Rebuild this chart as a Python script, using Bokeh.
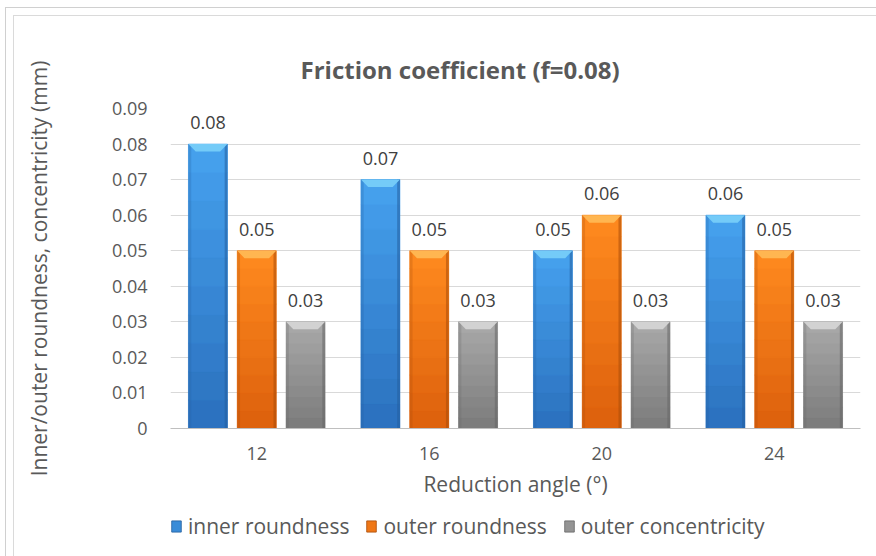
from bokeh.plotting import figure
from bokeh.models import (Range1d, FixedTicker, Legend, LegendItem, ColumnDataSource)
from bokeh.layouts import column
from bokeh.embed import file_html
from bokeh.resources import INLINE
import numpy as np

# data
angles = ["12", "16", "20", "24"]
inner_roundness = [0.08, 0.07, 0.05, 0.06]
outer_roundness = [0.05, 0.05, 0.06, 0.05]
outer_concentricity = [0.03, 0.03, 0.03, 0.03]
y_ticks = [0, 0.01, 0.02, 0.03, 0.04, 0.05, 0.06, 0.07, 0.08, 0.09]

series = [
    ("inner roundness", inner_roundness, -0.283,
     dict(top="#46a2ef", bottom="#2b70bd", cap="#74cbf8", edge="#255f9e")),
    ("outer roundness", outer_roundness, 0.0,
     dict(top="#ff8a1f", bottom="#dc600c", cap="#ffb651", edge="#a94d0a")),
    ("outer concentricity", outer_concentricity, 0.283,
     dict(top="#a9a9a9", bottom="#7b7b7b", cap="#d2d2d2", edge="#666666")),
]

FONT = "Open Sans"
TEXT = "#595959"
BAR_W = 0.226

p = figure(width=876, height=500, x_range=Range1d(0, 4), y_range=Range1d(0, 0.09),
           output_backend="svg", toolbar_location=None,
           min_border_left=170, min_border_right=16, min_border_top=108, min_border_bottom=72)
p.outline_line_color = None
p.background_fill_color = "white"
p.border_fill_alpha = 0

p.title.text = "Friction coefficient (f=0.08)"
p.title.align = "left"
p.title.offset = 130
p.title.text_font = FONT
p.title.text_font_size = "24px"
p.title.text_font_style = "bold"
p.title.text_color = TEXT
p.title.standoff = 45

# y axis
p.yaxis.ticker = FixedTicker(ticks=y_ticks)
p.yaxis.major_label_overrides = {0: "0"}
p.yaxis.axis_line_color = None
p.yaxis.major_tick_line_color = None
p.yaxis.minor_tick_line_color = None
p.yaxis.major_label_standoff = 17
p.yaxis.major_label_text_font = FONT
p.yaxis.major_label_text_font_size = "18px"
p.yaxis.major_label_text_color = TEXT
p.yaxis.axis_label = "Inner/outer roundness, concentricity (mm)"
p.yaxis.axis_label_text_font = FONT
p.yaxis.axis_label_text_font_size = "21px"
p.yaxis.axis_label_text_font_style = "normal"
p.yaxis.axis_label_text_color = TEXT
p.yaxis.axis_label_standoff = 56

# x axis
cat_x = [i + 0.5 for i in range(len(angles))]
p.xaxis.ticker = FixedTicker(ticks=cat_x)
p.xaxis.major_label_overrides = {c: a for c, a in zip(cat_x, angles)}
p.xaxis.axis_line_color = "#bfbfbf"
p.xaxis.major_tick_line_color = None
p.xaxis.minor_tick_line_color = None
p.xaxis.major_label_standoff = 12
p.xaxis.major_label_text_font = FONT
p.xaxis.major_label_text_font_size = "18px"
p.xaxis.major_label_text_color = TEXT
p.xaxis.axis_label = "Reduction angle (°)"
p.xaxis.axis_label_text_font = FONT
p.xaxis.axis_label_text_font_size = "21px"
p.xaxis.axis_label_text_font_style = "normal"
p.xaxis.axis_label_text_color = TEXT
p.xaxis.axis_label_standoff = 7

p.xgrid.grid_line_color = None
p.ygrid.grid_line_color = "#d9d9d9"
p.ygrid.ticker = FixedTicker(ticks=y_ticks[1:])


def mix(c1, c2, t):
    a = np.array([int(c1[i:i + 2], 16) for i in (1, 3, 5)])
    b = np.array([int(c2[i:i + 2], 16) for i in (1, 3, 5)])
    m = np.round(a + (b - a) * t).astype(int)
    return "#%02x%02x%02x" % tuple(m)


N = 10
CAP_DX = 0.042
CAP_DY = 0.0021
EDGE_W = 0.016

# separate strip that carries the legend under the chart
lg = figure(width=876, height=56, x_range=Range1d(0, 1), y_range=Range1d(0, 1),
            output_backend="svg", toolbar_location=None,
            x_axis_location=None, y_axis_location=None,
            min_border=0)
lg.outline_line_color = None
lg.grid.grid_line_color = None
lg.background_fill_alpha = 0
lg.border_fill_alpha = 0

items = []
for name, vals, off, col in series:
    vals = np.array(vals)
    xs = np.array(cat_x) + off
    p.vbar(x=xs, top=vals, bottom=0, width=BAR_W,
           fill_color=mix(col["bottom"], col["top"], 0.5), line_color=None)
    # vertical shading, darker toward the base
    for k in range(N):
        c = mix(col["bottom"], col["top"], (k + 0.5) / N)
        p.vbar(x=xs, bottom=vals * k / N, top=vals * (k + 1) / N, width=BAR_W,
               fill_color=c, line_color=c, line_width=0.6)
    # side edges
    p.vbar(x=xs + BAR_W / 2 - EDGE_W / 2, top=vals, bottom=0, width=EDGE_W,
           fill_color=col["edge"], fill_alpha=0.55, line_color=None)
    p.vbar(x=xs - BAR_W / 2 + EDGE_W / 2, top=vals, bottom=0, width=EDGE_W,
           fill_color=col["edge"], fill_alpha=0.25, line_color=None)
    # bevelled top cap
    cap_xs = [[x - BAR_W / 2, x + BAR_W / 2, x + BAR_W / 2 - CAP_DX, x - BAR_W / 2 + CAP_DX]
              for x in xs]
    cap_ys = [[v, v, v - CAP_DY, v - CAP_DY] for v in vals]
    p.patches(xs=cap_xs, ys=cap_ys, fill_color=col["cap"], line_color=None)
    # value labels
    src = ColumnDataSource(dict(x=xs, y=vals, t=["%.2f" % v for v in vals]))
    p.text(x="x", y="y", text="t", source=src, text_align="center",
           text_baseline="bottom", y_offset=-15, text_font_size="18px",
           text_color="#404040", text_font={"value": FONT})
    # legend key (its single point sits outside the visible strip)
    key = lg.rect(x=[-5], y=[-5], width=0.1, height=0.1,
                  fill_color=mix(col["bottom"], col["top"], 0.55),
                  line_color=col["edge"], line_width=0.8)
    items.append(LegendItem(label=name, renderers=[key]))

legend = Legend(items=items, orientation="horizontal", location=(0, 16),
                label_text_font=FONT, label_text_font_size="21px",
                label_text_color=TEXT, glyph_width=12, glyph_height=14,
                spacing=16, label_standoff=6, border_line_color=None,
                background_fill_alpha=0, margin=0, padding=2)
lg.add_layout(legend)

page = column(p, lg, spacing=0,
              styles={
                  "background": (
                      "linear-gradient(#d0d0d0,#d0d0d0) 5px 7px / 1px 100% no-repeat, "
                      "linear-gradient(#d0d0d0,#d0d0d0) 5px 7px / 100% 1px no-repeat, "
                      "linear-gradient(#dadada,#dadada) 13px 15px / 1px 100% no-repeat, "
                      "linear-gradient(#dadada,#dadada) 13px 15px / 100% 1px no-repeat, white"),
              })

open("out.html", "w").write(file_html(page, INLINE))
